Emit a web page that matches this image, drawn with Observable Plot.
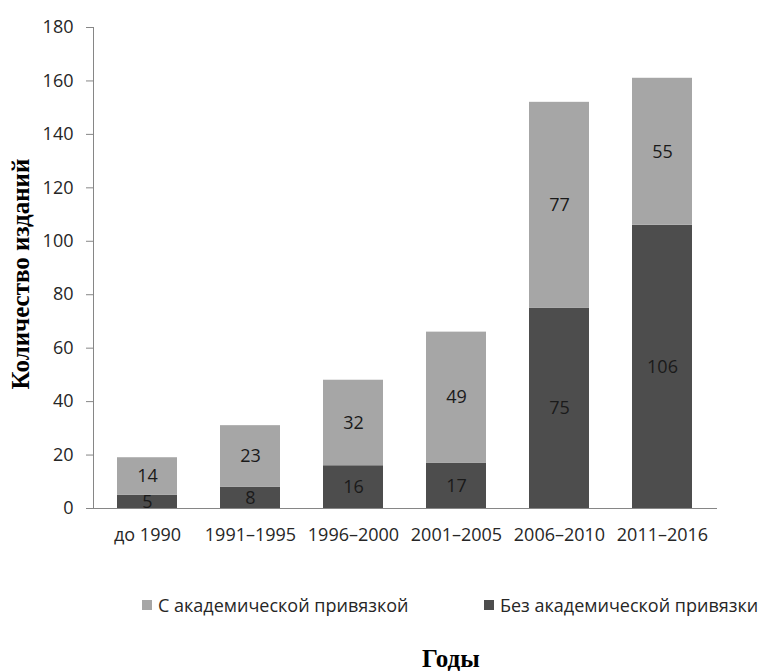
<!DOCTYPE html>
<html><head><meta charset="utf-8">
<script src="https://cdn.jsdelivr.net/npm/d3@7"></script>
<script src="https://cdn.jsdelivr.net/npm/@observablehq/plot@0.6"></script>
<style>
body{margin:0;background:#fff;font-family:"Open Sans",sans-serif;}
#legend{position:absolute;top:592px;left:0;width:770px;height:26px;font-size:18px;color:#262626;}
.li{position:absolute;top:0;display:flex;align-items:center;white-space:nowrap;line-height:26px;}
.sw{width:10px;height:10px;margin-right:6px;display:inline-block;}
#xt{position:absolute;top:644px;left:422px;font-family:"Liberation Serif",serif;font-weight:bold;font-size:25px;line-height:30px;color:#000;}
#chart{position:absolute;top:0;left:0;}
</style></head><body>
<div id="chart"></div>
<div id="legend">
  <div class="li" style="left:142px"><span class="sw" style="background:#a6a6a6"></span>С академической привязкой</div>
  <div class="li" style="left:484px"><span class="sw" style="background:#4d4d4d"></span>Без академической привязки</div>
</div>
<div id="xt">Годы</div>
<script>
const periods = ["до 1990","1991–1995","1996–2000","2001–2005","2006–2010","2011–2016"];
const withAcademic = [14,23,32,49,77,55];
const withoutAcademic = [5,8,16,17,75,106];
const yTicks = [0,20,40,60,80,100,120,140,160,180];
const seriesNames = ["Без академической привязки","С академической привязкой"];
const seriesColors = ["#4d4d4d","#a6a6a6"];

const data = [];
periods.forEach((p,i)=>{
  data.push({period:p, series:seriesNames[0], value:withoutAcademic[i]});
  data.push({period:p, series:seriesNames[1], value:withAcademic[i]});
});

const chart = Plot.plot({
  width: 770, height: 560,
  marginTop: 27, marginBottom: 52, marginLeft: 93, marginRight: 53,
  style:{fontFamily:"Open Sans, sans-serif", color:"#262626"},
  x:{domain:periods, paddingInner:0.413, paddingOuter:0.22, label:null},
  y:{domain:[0,180], label:null},
  color:{domain:seriesNames, range:seriesColors},
  marks:[
    Plot.barY(data, Plot.stackY({x:"period", y:"value", fill:"series", order:seriesNames})),
    Plot.text(data, Plot.stackY({x:"period", y:"value", z:"series", order:seriesNames, text:d=>String(d.value), fill:"#1a1a1a", fontSize:18})),
    Plot.ruleY([0],{stroke:"#868686"}),
    Plot.axisX({tickSize:0, tickPadding:20, label:null, fontSize:18, fill:"#262626"}),
    Plot.axisY({ticks:yTicks, tickSize:7, tickPadding:13, stroke:"#868686", label:null, fontSize:18, fill:"#262626"}),
    Plot.frame({anchor:"left", stroke:"#868686"}),
    Plot.text(["Количество изданий"],{frameAnchor:"left", textAnchor:"middle", dx:-73, dy:6, rotate:-90, fontFamily:"Liberation Serif, serif", fontWeight:"bold", fontSize:25, fill:"#000"})
  ]
});
document.getElementById("chart").appendChild(chart);
</script>
</body></html>
